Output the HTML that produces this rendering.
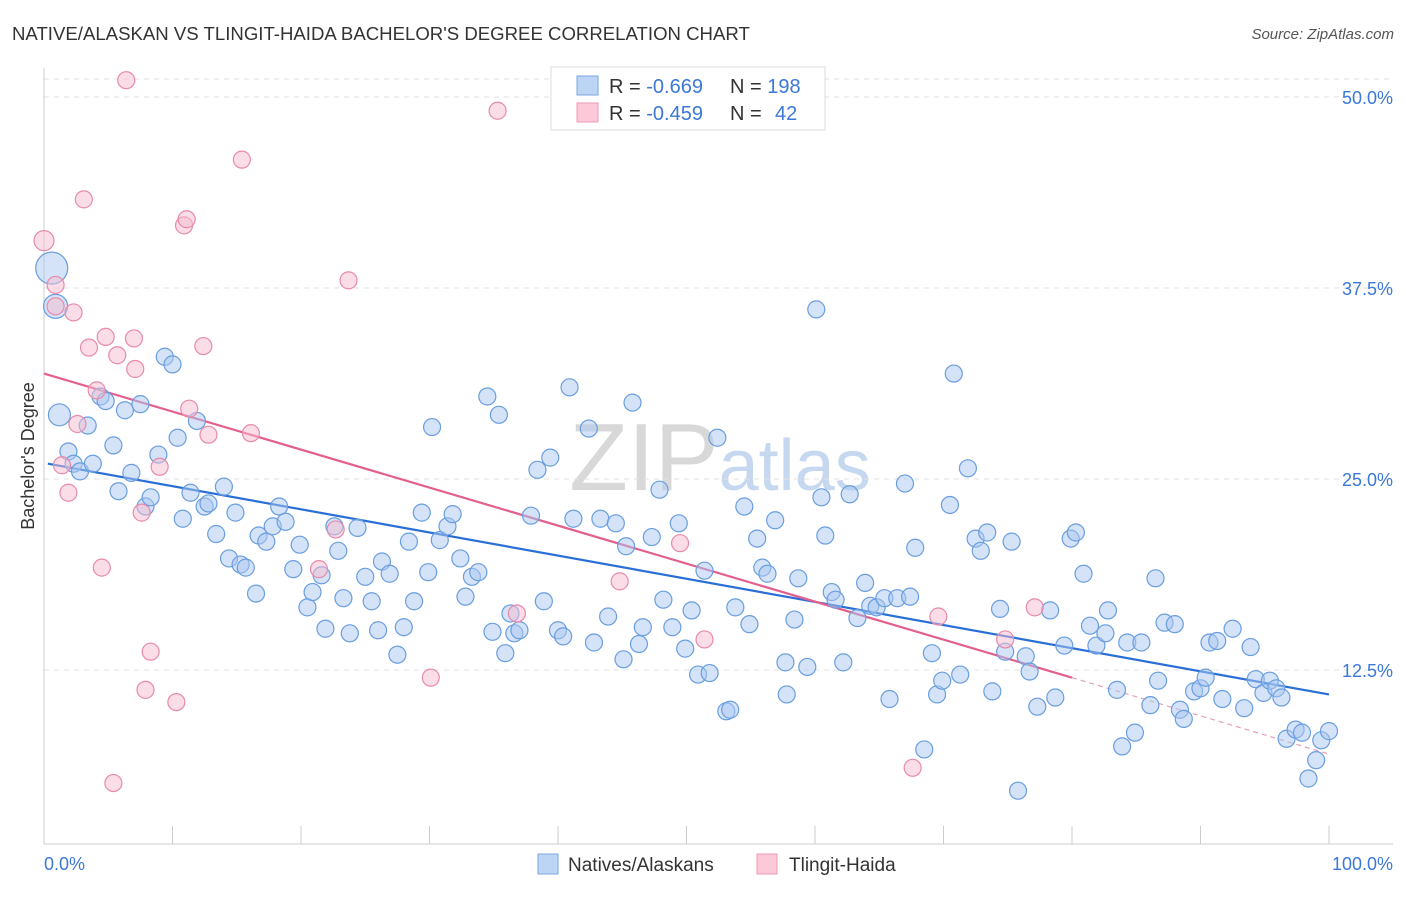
<!DOCTYPE html>
<html><head><meta charset="utf-8"><style>
body{margin:0;background:#fff;font-family:"Liberation Sans",sans-serif;}
svg text{font-family:"Liberation Sans",sans-serif;}
</style></head><body>
<svg id="chart" width="1406" height="892" xmlns="http://www.w3.org/2000/svg">
<text x="12" y="40" font-size="18.6" fill="#333">NATIVE/ALASKAN VS TLINGIT-HAIDA BACHELOR'S DEGREE CORRELATION CHART</text>
<text x="1394" y="39" font-size="15" fill="#555" font-style="italic" text-anchor="end">Source: ZipAtlas.com</text>
<text x="720" y="490" font-size="96" text-anchor="middle" font-family="Liberation Serif" fill="#d8d8d8">ZIP<tspan fill="#c6d8f0" font-family="Liberation Sans" font-size="72">atlas</tspan></text>
<g id="grid"></g>
<g id="axes"></g>
<g id="lines"></g>
<g id="pts"></g>
<g>
<rect x="551" y="67" width="274" height="63" fill="#fff" stroke="#ddd"/>
<rect x="577" y="76" width="21" height="19" fill="#bcd5f5" stroke="#7aa7e0"/>
<rect x="577" y="103" width="21" height="19" fill="#fcc9d8" stroke="#ee9ab5"/>
<text x="609" y="93" font-size="20" fill="#333">R = <tspan fill="#3b78d8">-0.669</tspan><tspan x="730">N = </tspan><tspan fill="#3b78d8">198</tspan></text>
<text x="609" y="120" font-size="20" fill="#333">R = <tspan fill="#3b78d8">-0.459</tspan><tspan x="730">N = </tspan><tspan fill="#3b78d8" x="775">42</tspan></text>
</g>
<g>
<rect x="538" y="854" width="20" height="20" fill="#bcd5f5" stroke="#7aa7e0"/>
<text x="568" y="871" font-size="19" fill="#333">Natives/Alaskans</text>
<rect x="757" y="854" width="20" height="20" fill="#fcc9d8" stroke="#ee9ab5"/>
<text x="789" y="871" font-size="19" fill="#333">Tlingit-Haida</text>
</g>
<text transform="translate(34,456) rotate(-90)" font-size="18" fill="#333" text-anchor="middle">Bachelor's Degree</text>
</svg>
<script>
const yTicks=[12.5,25,37.5,50];
const yTickLabels=["12.5%","25.0%","37.5%","50.0%"];
const xTickVals=[0,10,20,30,40,50,60,70,80,90,100];
const blueX=[0.6,0.9,1.2,1.9,2.3,2.8,3.4,3.8,4.4,4.8,5.4,5.8,6.3,6.8,7.5,7.9,8.3,8.9,9.4,10.0,10.4,10.8,11.4,11.9,12.5,12.8,13.4,14.0,14.4,14.9,15.3,15.7,16.5,16.7,17.3,17.8,18.3,18.8,19.4,19.9,20.5,20.9,21.6,21.9,22.6,22.9,23.3,23.8,24.4,25.0,25.5,26.0,26.3,26.9,27.5,28.0,28.4,28.8,29.4,29.9,30.2,30.8,31.4,31.8,32.4,32.8,33.3,33.8,34.5,34.9,35.4,35.9,36.3,36.6,37.0,37.9,38.4,38.9,39.4,40.0,40.4,40.9,41.2,42.4,42.8,43.3,43.9,44.5,45.1,45.3,45.8,46.3,46.6,47.3,47.9,48.2,48.9,49.4,49.9,50.4,50.9,51.4,51.8,52.4,53.1,53.4,53.8,54.5,54.9,55.5,55.9,56.3,56.9,57.7,57.8,58.4,58.7,59.4,60.1,60.5,60.8,61.3,61.6,62.2,62.7,63.3,63.9,64.3,64.8,65.4,65.8,66.4,67.0,67.4,67.8,68.5,69.1,69.5,69.9,70.5,70.8,71.3,71.9,72.5,72.9,73.4,73.8,74.4,74.8,75.3,75.8,76.4,76.7,77.3,78.3,78.7,79.4,79.9,80.3,80.9,81.4,81.9,82.6,82.8,83.5,83.9,84.3,84.9,85.4,86.1,86.5,86.7,87.2,88.0,88.4,88.7,89.5,90.0,90.4,90.7,91.3,91.7,92.5,93.4,93.9,94.3,94.9,95.4,95.9,96.3,96.7,97.4,97.9,98.4,99.0,99.4,100.0];
const blueY=[38.8,36.3,29.2,26.8,26.0,25.5,28.5,26.0,30.4,30.1,27.2,24.2,29.5,25.4,29.9,23.2,23.8,26.6,33.0,32.5,27.7,22.4,24.1,28.8,23.2,23.4,21.4,24.5,19.8,22.8,19.4,19.2,17.5,21.3,20.9,21.9,23.2,22.2,19.1,20.7,16.6,17.6,18.7,15.2,21.9,20.3,17.2,14.9,21.8,18.6,17.0,15.1,19.6,18.8,13.5,15.3,20.9,17.0,22.8,18.9,28.4,21.0,21.9,22.7,19.8,17.3,18.6,18.9,30.4,15.0,29.2,13.6,16.2,14.9,15.1,22.6,25.6,17.0,26.4,15.1,14.7,31.0,22.4,28.3,14.3,22.4,16.0,22.1,13.2,20.6,30.0,14.2,15.3,21.2,24.3,17.1,15.3,22.1,13.9,16.4,12.2,19.0,12.3,27.7,9.8,9.9,16.6,23.2,15.5,21.1,19.2,18.8,22.3,13.0,10.9,15.8,18.5,12.7,36.1,23.8,21.3,17.6,17.1,13.0,24.0,15.9,18.2,16.7,16.6,17.2,10.6,17.2,24.7,17.3,20.5,7.3,13.6,10.9,11.8,23.3,31.9,12.2,25.7,21.1,20.3,21.5,11.1,16.5,13.7,20.9,4.6,13.4,12.4,10.1,16.4,10.7,14.1,21.1,21.5,18.8,15.4,14.1,14.9,16.4,11.2,7.5,14.3,8.4,14.3,10.2,18.5,11.8,15.6,15.5,9.9,9.3,11.1,11.3,12.0,14.3,14.4,10.6,15.2,10.0,14.0,11.9,11.0,11.8,11.3,10.7,8.0,8.6,8.4,5.4,6.6,7.9,8.5];
const pinkX=[0,0.9,0.9,1.4,1.9,2.3,2.6,3.1,3.5,4.1,4.5,4.8,5.7,5.4,6.4,7.0,7.1,7.6,7.9,8.3,9.0,10.3,10.9,11.1,11.3,12.4,12.8,15.4,16.1,21.4,22.7,23.7,30.1,35.3,36.8,44.8,49.5,51.4,67.6,69.6,74.8,77.1];
const pinkY=[40.6,37.7,36.3,25.9,24.1,35.9,28.6,43.3,33.6,30.8,19.2,34.3,33.1,5.1,51.1,34.2,32.2,22.8,11.2,13.7,25.8,10.4,41.6,42.0,29.6,33.7,27.9,45.9,28.0,19.1,21.7,38.0,12.0,49.1,16.2,18.3,20.8,14.5,6.1,16.0,14.5,16.6];
const blueTrend=[[0.3,26.0],[100,10.9]];
const pinkTrend=[[0,31.9],[80,12.0],[100,7.0]];

const X=v=>44+v*12.85;
const Y=v=>861-v*15.28;
const NS="http://www.w3.org/2000/svg";
function mk(tag,parent,attrs){const e=document.createElementNS(NS,tag);for(const k in attrs)e.setAttribute(k,attrs[k]);parent.appendChild(e);return e;}
const grid=document.getElementById('grid'),axes=document.getElementById('axes'),lines=document.getElementById('lines'),pts=document.getElementById('pts');
let g=mk('line',grid,{x1:44,x2:1393,y1:79,y2:79,stroke:'#e2e2e2','stroke-dasharray':'5,5'});


yTicks.forEach((t,i)=>{
 const l=mk('line',grid,{x1:44,x2:1393,y1:Y(t),y2:Y(t),stroke:'#e2e2e2','stroke-dasharray':'5,5'});
 
 
 const tx=mk('text',grid,{x:1393,y:Y(t)+7,'font-size':18,fill:'#3b78d8','text-anchor':'end'});
 tx.textContent=yTickLabels[i];
 
 
});
let a=mk('line',axes,{x1:44,x2:44,y1:68,y2:844,stroke:'#ccc'});


a=mk('line',axes,{x1:44,x2:1393,y1:844,y2:844,stroke:'#ccc'});


xTickVals.forEach(t=>{
 const l=mk('line',axes,{x1:X(t),x2:X(t),y1:826,y2:844,stroke:'#ccc'});
 
 
});
let t0=mk('text',axes,{x:44,y:870,'font-size':18,fill:'#3b78d8'});t0.textContent='0.0%';


let t1=mk('text',axes,{x:1393,y:870,'font-size':18,fill:'#3b78d8','text-anchor':'end'});t1.textContent='100.0%';



function dot(x,y,r,fill,stroke,name){
 const c=mk('circle',pts,{cx:X(x),cy:Y(y),r:r,fill:fill,'fill-opacity':0.5,stroke:stroke,'stroke-width':1.2});
 
 
}
blueX.forEach((x,i)=>dot(x,blueY[i],i==0?16:(i==1?12:(i==2?11:8.5)),'#a9c8f0','#6a9ee0','native-point'));
pinkX.forEach((x,i)=>dot(x,pinkY[i],i==0?10:8.5,'#f6bccf','#e88aab','tlingit-point'));
let bl=mk('line',lines,{x1:X(blueTrend[0][0]),y1:Y(blueTrend[0][1]),x2:X(blueTrend[1][0]),y2:Y(blueTrend[1][1]),stroke:'#2a6fd6','stroke-width':2.2});


let pl=mk('line',lines,{x1:X(pinkTrend[0][0]),y1:Y(pinkTrend[0][1]),x2:X(pinkTrend[1][0]),y2:Y(pinkTrend[1][1]),stroke:'#e3608e','stroke-width':2.2});


let pd=mk('line',lines,{x1:X(pinkTrend[1][0]),y1:Y(pinkTrend[1][1]),x2:X(pinkTrend[2][0]),y2:Y(pinkTrend[2][1]),stroke:'#e3a0b8','stroke-width':1.2,'stroke-dasharray':'5,4'});


</script>
</body></html>
